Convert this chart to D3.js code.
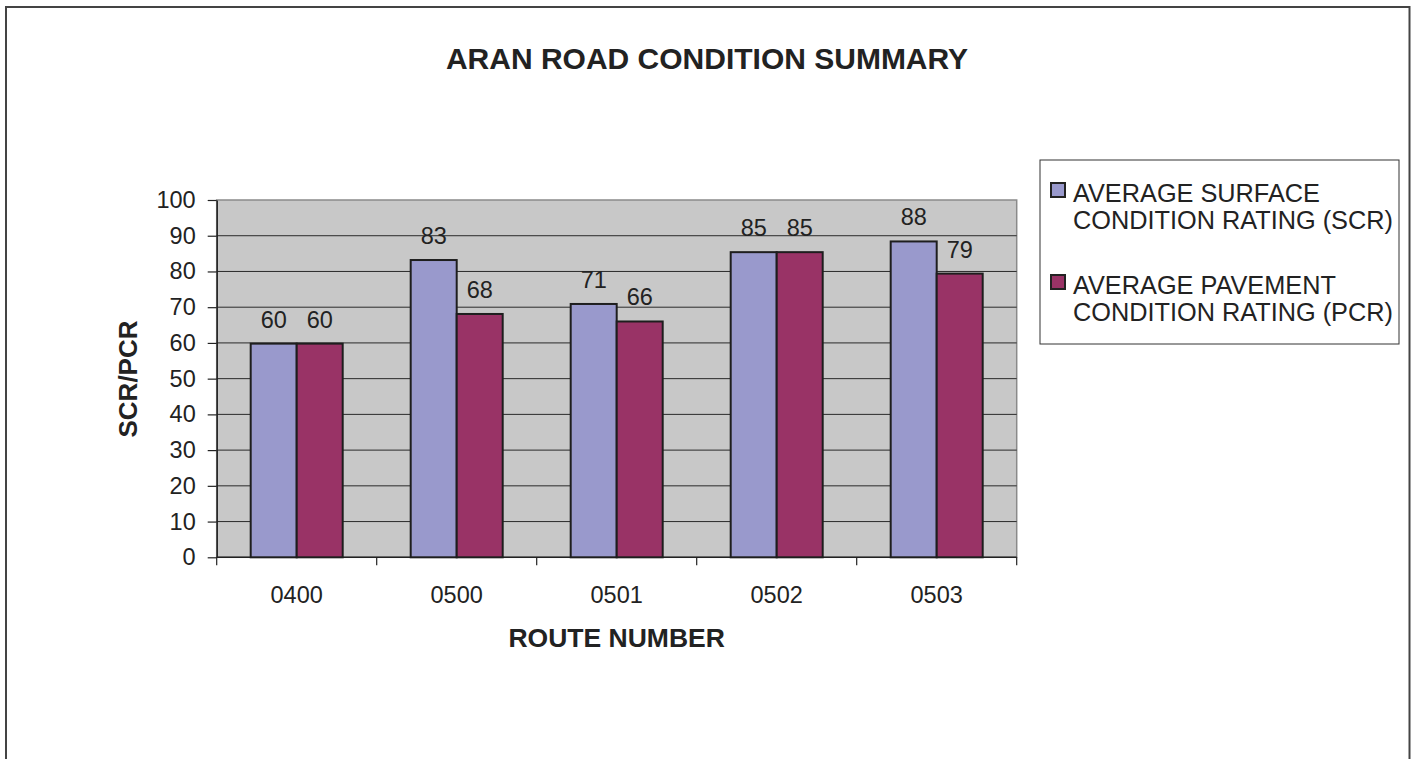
<!DOCTYPE html>
<html>
<head>
<meta charset="utf-8">
<script src="https://cdn.jsdelivr.net/npm/d3@7"></script>
<style>
  html, body { margin: 0; padding: 0; background: #fff; }
  svg { display: block; font-family: "Liberation Sans", Arial, sans-serif; }
</style>
</head>
<body>
<svg id="chart" width="1412" height="759"></svg>
<script>
const categories = ["0400", "0500", "0501", "0502", "0503"];
const seriesNames = [
  ["AVERAGE SURFACE", "CONDITION RATING (SCR)"],
  ["AVERAGE PAVEMENT", "CONDITION RATING (PCR)"]
];
const scrValues = [59.8, 83.2, 70.9, 85.4, 88.4];
const pcrValues = [59.8, 68.1, 66.0, 85.4, 79.4];
const yTicks = [0, 10, 20, 30, 40, 50, 60, 70, 80, 90, 100];
const seriesColors = ["#9999cc", "#993366"];

const svg = d3.select("#chart");
const FS = 23.5;

// outer frame
svg.append("rect").attr("x", 6).attr("y", 7).attr("width", 1403.5).attr("height", 760)
  .attr("fill", "#fff").attr("stroke", "#444").attr("stroke-width", 2);

const plot = { left: 216.7, right: 1016.7, top: 200, bottom: 557.3 };

const x = d3.scaleBand().domain(categories).range([plot.left, plot.right]).paddingInner(0).paddingOuter(0);
const barW = 46;
const y = d3.scaleLinear().domain([0, 100]).range([plot.bottom, plot.top]);

// plot background
svg.append("rect").attr("x", plot.left).attr("y", plot.top)
  .attr("width", plot.right - plot.left).attr("height", plot.bottom - plot.top)
  .attr("fill", "#c8c8c8").attr("stroke", "#8a8a8a").attr("stroke-width", 1.5);

// gridlines
svg.append("g").selectAll("line").data(yTicks.filter(d => d > 0 && d < 100)).join("line")
  .attr("x1", plot.left).attr("x2", plot.right)
  .attr("y1", d => y(d)).attr("y2", d => y(d))
  .attr("stroke", "#2a2a2a").attr("stroke-width", 1);

// y axis
const yAxis = d3.axisLeft(y).tickValues(yTicks).tickSize(9).tickPadding(12).tickSizeOuter(0);
const gy = svg.append("g").attr("transform", `translate(${plot.left},0)`).call(yAxis);
gy.select(".domain").attr("stroke", "#222").attr("stroke-width", 1.5);
gy.selectAll(".tick line").attr("stroke", "#222").attr("stroke-width", 1.2);
gy.selectAll(".tick text").attr("font-size", FS).attr("fill", "#222")
  .attr("font-family", "Liberation Sans, Arial, sans-serif");

// x axis: ticks at category boundaries
const gx = svg.append("g").attr("transform", `translate(0,${plot.bottom})`);
gx.append("line").attr("x1", plot.left).attr("x2", plot.right).attr("stroke", "#222").attr("stroke-width", 1.5);
const boundaries = categories.map(c => x(c)).concat([x(categories[categories.length - 1]) + x.bandwidth()]);
gx.selectAll("line.tk").data(boundaries).join("line").attr("class", "tk")
  .attr("x1", d => d).attr("x2", d => d).attr("y1", 0).attr("y2", 8)
  .attr("stroke", "#222").attr("stroke-width", 1.2);
gx.selectAll("text").data(categories).join("text")
  .attr("x", d => x(d) + x.bandwidth() / 2).attr("y", 46)
  .attr("text-anchor", "middle").attr("font-size", FS).attr("fill", "#222")
  .text(d => d);

// bars
const series = [scrValues, pcrValues];
series.forEach((vals, si) => {
  const g = svg.append("g");
  g.selectAll("rect").data(categories.map((c, i) => ({ c, v: vals[i] }))).join("rect")
    .attr("x", d => x(d.c) + x.bandwidth() / 2 - barW + si * barW)
    .attr("y", d => y(d.v))
    .attr("width", barW)
    .attr("height", d => y(0) - y(d.v))
    .attr("fill", seriesColors[si]).attr("stroke", "#1e1e1e").attr("stroke-width", 2);
  g.selectAll("text").data(categories.map((c, i) => ({ c, v: vals[i] }))).join("text")
    .attr("x", d => x(d.c) + x.bandwidth() / 2 - barW / 2 + si * barW)
    .attr("y", d => y(d.v) - 16)
    .attr("text-anchor", "middle").attr("font-size", FS).attr("fill", "#222")
    .text(d => d3.format(".0f")(d.v));
});

// title
svg.append("text").attr("x", 707).attr("y", 69).attr("text-anchor", "middle")
  .attr("font-size", 30).attr("font-weight", "bold").attr("fill", "#222")
  .text("ARAN ROAD CONDITION SUMMARY");

// axis titles
svg.append("text").attr("transform", `translate(137,379) rotate(-90)`).attr("text-anchor", "middle")
  .attr("font-size", 26).attr("font-weight", "bold").attr("fill", "#222").text("SCR/PCR");
svg.append("text").attr("x", 616.7).attr("y", 647).attr("text-anchor", "middle")
  .attr("font-size", 26.5).attr("font-weight", "bold").attr("fill", "#222").text("ROUTE NUMBER");

// legend
const lg = svg.append("g");
lg.append("rect").attr("x", 1040).attr("y", 160).attr("width", 359).attr("height", 184)
  .attr("fill", "#fff").attr("stroke", "#333").attr("stroke-width", 1);
seriesNames.forEach((lines, i) => {
  const top = 183 + i * 92;
  lg.append("rect").attr("x", 1051).attr("y", top).attr("width", 14).attr("height", 14)
    .attr("fill", seriesColors[i]).attr("stroke", "#222").attr("stroke-width", 2);
  lines.forEach((t, j) => {
    lg.append("text").attr("x", 1073).attr("y", top + 18.5 + j * 27.3)
      .attr("font-size", 25.3).attr("fill", "#222").text(t);
  });
});
</script>
</body>
</html>
